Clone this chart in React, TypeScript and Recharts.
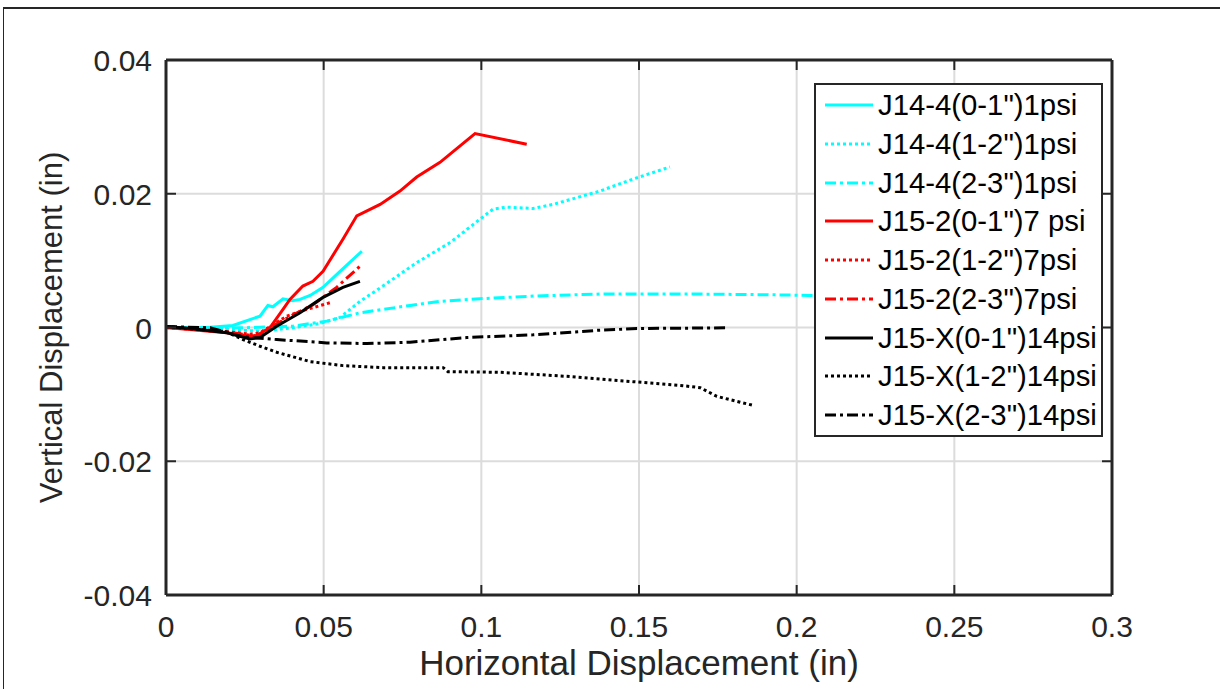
import React from "react";
import { LineChart, Line, XAxis, YAxis, CartesianGrid, Legend } from "recharts";

type Pt = [number, number];

const xTicks = [0, 0.05, 0.1, 0.15, 0.2, 0.25, 0.3];
const yTicks = [-0.04, -0.02, 0, 0.02, 0.04];

// J14-4, 1 psi
const j14_4_01: Pt[] = [
  [0, 0], [0.014, 0.00005], [0.0212, 0.0003], [0.0298, 0.0017], [0.0323, 0.0033],
  [0.0339, 0.0031], [0.0371, 0.0043], [0.04, 0.004], [0.0425, 0.0042], [0.0457, 0.0048],
  [0.0498, 0.006], [0.0552, 0.0084], [0.0621, 0.0114],
];
const j14_4_12: Pt[] = [
  [0, 0], [0.0108, -0.0001], [0.0235, -0.0004], [0.0298, -0.00055], [0.0403, -0.00005],
  [0.0488, 0.0006], [0.0552, 0.0015], [0.0615, 0.0039], [0.0688, 0.0062], [0.0795, 0.0097],
  [0.0901, 0.0127], [0.0996, 0.0162], [0.1037, 0.0177], [0.108, 0.018], [0.1164, 0.0178],
  [0.1227, 0.0184], [0.1376, 0.0204], [0.1481, 0.0222], [0.1598, 0.024],
];
const j14_4_23: Pt[] = [
  [0, 0], [0.0244, -0.00005], [0.0403, 0.0002], [0.051, 0.00095], [0.0615, 0.0022],
  [0.0774, 0.0033], [0.0869, 0.0039], [0.0996, 0.0043], [0.1164, 0.0047], [0.1376, 0.005],
  [0.1694, 0.005], [0.1905, 0.0049], [0.2036, 0.0048], [0.225, 0.0046],
];

// J15-2, 7 psi
const j15_2_01: Pt[] = [
  [0, 0], [0.0193, -0.0008], [0.0266, -0.0013], [0.0288, -0.0012], [0.033, 0],
  [0.0371, 0.0027], [0.0393, 0.0042], [0.0434, 0.0062], [0.0466, 0.0069], [0.0498, 0.0084],
  [0.0561, 0.0132], [0.0605, 0.0167], [0.0679, 0.0184], [0.0742, 0.0204], [0.0795, 0.0225],
  [0.0869, 0.0247], [0.098, 0.029], [0.1144, 0.0274],
];
const j15_2_12: Pt[] = [
  [0, 0], [0.019, -0.0006], [0.0266, -0.001], [0.0298, -0.0008], [0.0383, 0.0017],
  [0.0446, 0.0027], [0.052, 0.0037],
];
const j15_2_23: Pt[] = [
  [0, 0], [0.0171, -0.00045], [0.0244, -0.001], [0.0288, -0.0013], [0.033, 0],
  [0.0403, 0.0019], [0.0466, 0.0034], [0.0541, 0.006], [0.0621, 0.0094],
];

// J15-X, 14 psi
const j15_x_01: Pt[] = [
  [0, 0.00015], [0.0086, -0.0002], [0.0193, -0.0008], [0.0235, -0.0013], [0.0266, -0.0017],
  [0.0298, -0.0015], [0.0351, 0.0002], [0.0425, 0.0022], [0.0498, 0.0045], [0.0561, 0.006],
  [0.0615, 0.0069],
];
const j15_x_12: Pt[] = [
  [0, 0.00015], [0.0193, -0.0007], [0.0244, -0.0018], [0.0298, -0.0028], [0.0351, -0.0037],
  [0.0457, -0.0051], [0.0561, -0.0057], [0.0688, -0.006], [0.0879, -0.006], [0.0894, -0.0066],
  [0.1059, -0.0067], [0.1271, -0.0073], [0.1481, -0.0081], [0.164, -0.0087], [0.1694, -0.009],
  [0.1747, -0.0103], [0.1858, -0.0116],
];
const j15_x_23: Pt[] = [
  [0, 0.00015], [0.014, -0.00005], [0.0244, -0.0014], [0.0351, -0.0018], [0.051, -0.0023],
  [0.0637, -0.0024], [0.0774, -0.0022], [0.0954, -0.0015], [0.1164, -0.0011], [0.1376, -0.0004],
  [0.1503, -0.00015], [0.1778, -0.00005],
];

const FONT = "'Liberation Sans', Arial, Helvetica, sans-serif";
const AXIS = "#262626";
const CYAN = "#00ffff";
const RED = "#ff0000";
const BLACK = "#000000";
const DOT = "3 3";
const DASHDOT = "11 4 3 4";

const series = [
  { name: 'J14-4(0-1")1psi', pts: j14_4_01, color: CYAN, dash: undefined },
  { name: 'J14-4(1-2")1psi', pts: j14_4_12, color: CYAN, dash: DOT },
  { name: 'J14-4(2-3")1psi', pts: j14_4_23, color: CYAN, dash: DASHDOT },
  { name: 'J15-2(0-1")7 psi', pts: j15_2_01, color: RED, dash: undefined },
  { name: 'J15-2(1-2")7psi', pts: j15_2_12, color: RED, dash: DOT },
  { name: 'J15-2(2-3")7psi', pts: j15_2_23, color: RED, dash: DASHDOT },
  { name: 'J15-X(0-1")14psi', pts: j15_x_01, color: BLACK, dash: undefined },
  { name: 'J15-X(1-2")14psi', pts: j15_x_12, color: BLACK, dash: DOT },
  { name: 'J15-X(2-3")14psi', pts: j15_x_23, color: BLACK, dash: DASHDOT },
];

const toRows = (pts: Pt[]) => pts.map(([x, y]) => ({ x, y }));

const BottomTick = ({ x, y, payload }: any) => (
  <g>
    <line x1={x} x2={x} y1={y} y2={y - 10} stroke={AXIS} strokeWidth={2} />
    <text x={x} y={y + 42} textAnchor="middle" fontSize={30} fill={AXIS} fontFamily={FONT}>
      {String(payload.value)}
    </text>
  </g>
);

const LeftTick = ({ x, y, payload }: any) => (
  <g>
    <line x1={x} x2={x + 10} y1={y} y2={y} stroke={AXIS} strokeWidth={2} />
    <text x={x - 14} y={y + 11} textAnchor="end" fontSize={30} fill={AXIS} fontFamily={FONT}>
      {String(payload.value)}
    </text>
  </g>
);

const TopTick = ({ x, y }: any) => (
  <line x1={x} x2={x} y1={y} y2={y + 10} stroke={AXIS} strokeWidth={2} />
);

const RightTick = ({ x, y }: any) => (
  <line x1={x} x2={x - 10} y1={y} y2={y} stroke={AXIS} strokeWidth={2} />
);

const XTitle = ({ viewBox }: any) => (
  <text
    x={viewBox.x + viewBox.width / 2}
    y={viewBox.y + 80}
    textAnchor="middle"
    fontSize={35}
    fill={AXIS}
    fontFamily={FONT}
  >
    Horizontal Displacement (in)
  </text>
);

const YTitle = ({ viewBox }: any) => {
  const cx = viewBox.x + viewBox.width - 104;
  const cy = viewBox.y + viewBox.height / 2;
  return (
    <text
      x={cx}
      y={cy}
      transform={`rotate(-90 ${cx} ${cy})`}
      textAnchor="middle"
      fontSize={31}
      fill={AXIS}
      fontFamily={FONT}
    >
      Vertical Displacement (in)
    </text>
  );
};

const LegendBox = () => (
  <div
    style={{
      boxSizing: "border-box",
      width: 289,
      height: 354,
      border: `2px solid ${AXIS}`,
      background: "#fff",
      position: "relative",
      fontFamily: FONT,
    }}
  >
    {series.map((s, i) => (
      <div
        key={s.name}
        style={{
          position: "absolute",
          left: 9,
          top: 20 + i * 38.75 - 19,
          height: 38,
          display: "flex",
          alignItems: "center",
          whiteSpace: "nowrap",
        }}
      >
        <svg width={48} height={10} style={{ display: "block" }}>
          <line
            x1={0}
            x2={48}
            y1={5}
            y2={5}
            stroke={s.color}
            strokeWidth={3}
            strokeDasharray={s.dash}
          />
        </svg>
        <span style={{ marginLeft: 5, fontSize: 29.3, color: "#000", lineHeight: "38px" }}>{s.name}</span>
      </div>
    ))}
  </div>
);

export default function App() {
  return (
    <div style={{ position: "absolute", left: 0, top: 0, width: 1220, height: 689, background: "#fff" }}>
      <div style={{ position: "absolute", left: 3, top: 7, right: 0, height: 2, background: AXIS }} />
      <div style={{ position: "absolute", left: 3, top: 7, bottom: 0, width: 1, background: AXIS }} />
      <LineChart
        width={1220}
        height={689}
        margin={{ top: 0, right: 0, bottom: 0, left: 0 }}
        style={{ position: "absolute", left: 0, top: 0 }}
      >
        <CartesianGrid stroke="#dcdcdc" strokeWidth={2} />
        <XAxis
          type="number"
          dataKey="x"
          domain={[0, 0.3]}
          ticks={xTicks}
          allowDataOverflow
          height={94}
          tickSize={0}
          tickMargin={0}
          tick={<BottomTick />}
          tickLine={false}
          axisLine={{ stroke: AXIS, strokeWidth: 3 }}
          label={{ content: <XTitle /> }}
        />
        <XAxis
          xAxisId="top"
          orientation="top"
          type="number"
          dataKey="x"
          domain={[0, 0.3]}
          ticks={xTicks}
          allowDataOverflow
          height={60}
          tickSize={0}
          tickMargin={0}
          tick={<TopTick />}
          tickLine={false}
          axisLine={{ stroke: AXIS, strokeWidth: 3 }}
        />
        <YAxis
          type="number"
          domain={[-0.04, 0.04]}
          ticks={yTicks}
          allowDataOverflow
          width={166}
          tickSize={0}
          tickMargin={0}
          tick={<LeftTick />}
          tickLine={false}
          axisLine={{ stroke: AXIS, strokeWidth: 3 }}
          label={{ content: <YTitle /> }}
        />
        <YAxis
          yAxisId="right"
          orientation="right"
          type="number"
          domain={[-0.04, 0.04]}
          ticks={yTicks}
          allowDataOverflow
          width={108}
          tickSize={0}
          tickMargin={0}
          tick={<RightTick />}
          tickLine={false}
          axisLine={{ stroke: AXIS, strokeWidth: 3 }}
        />
        {series.map((s) => (
          <Line
            key={s.name}
            name={s.name}
            data={toRows(s.pts)}
            dataKey="y"
            type="linear"
            stroke={s.color}
            strokeWidth={3}
            strokeDasharray={s.dash}
            dot={false}
            activeDot={false}
            isAnimationActive={false}
          />
        ))}
        <Legend
          layout="vertical"
          align="center"
          verticalAlign="middle"
          content={() => <LegendBox />}
          wrapperStyle={{ left: 814, top: 83, width: 289, height: 354 }}
        />
      </LineChart>
    </div>
  );
}
